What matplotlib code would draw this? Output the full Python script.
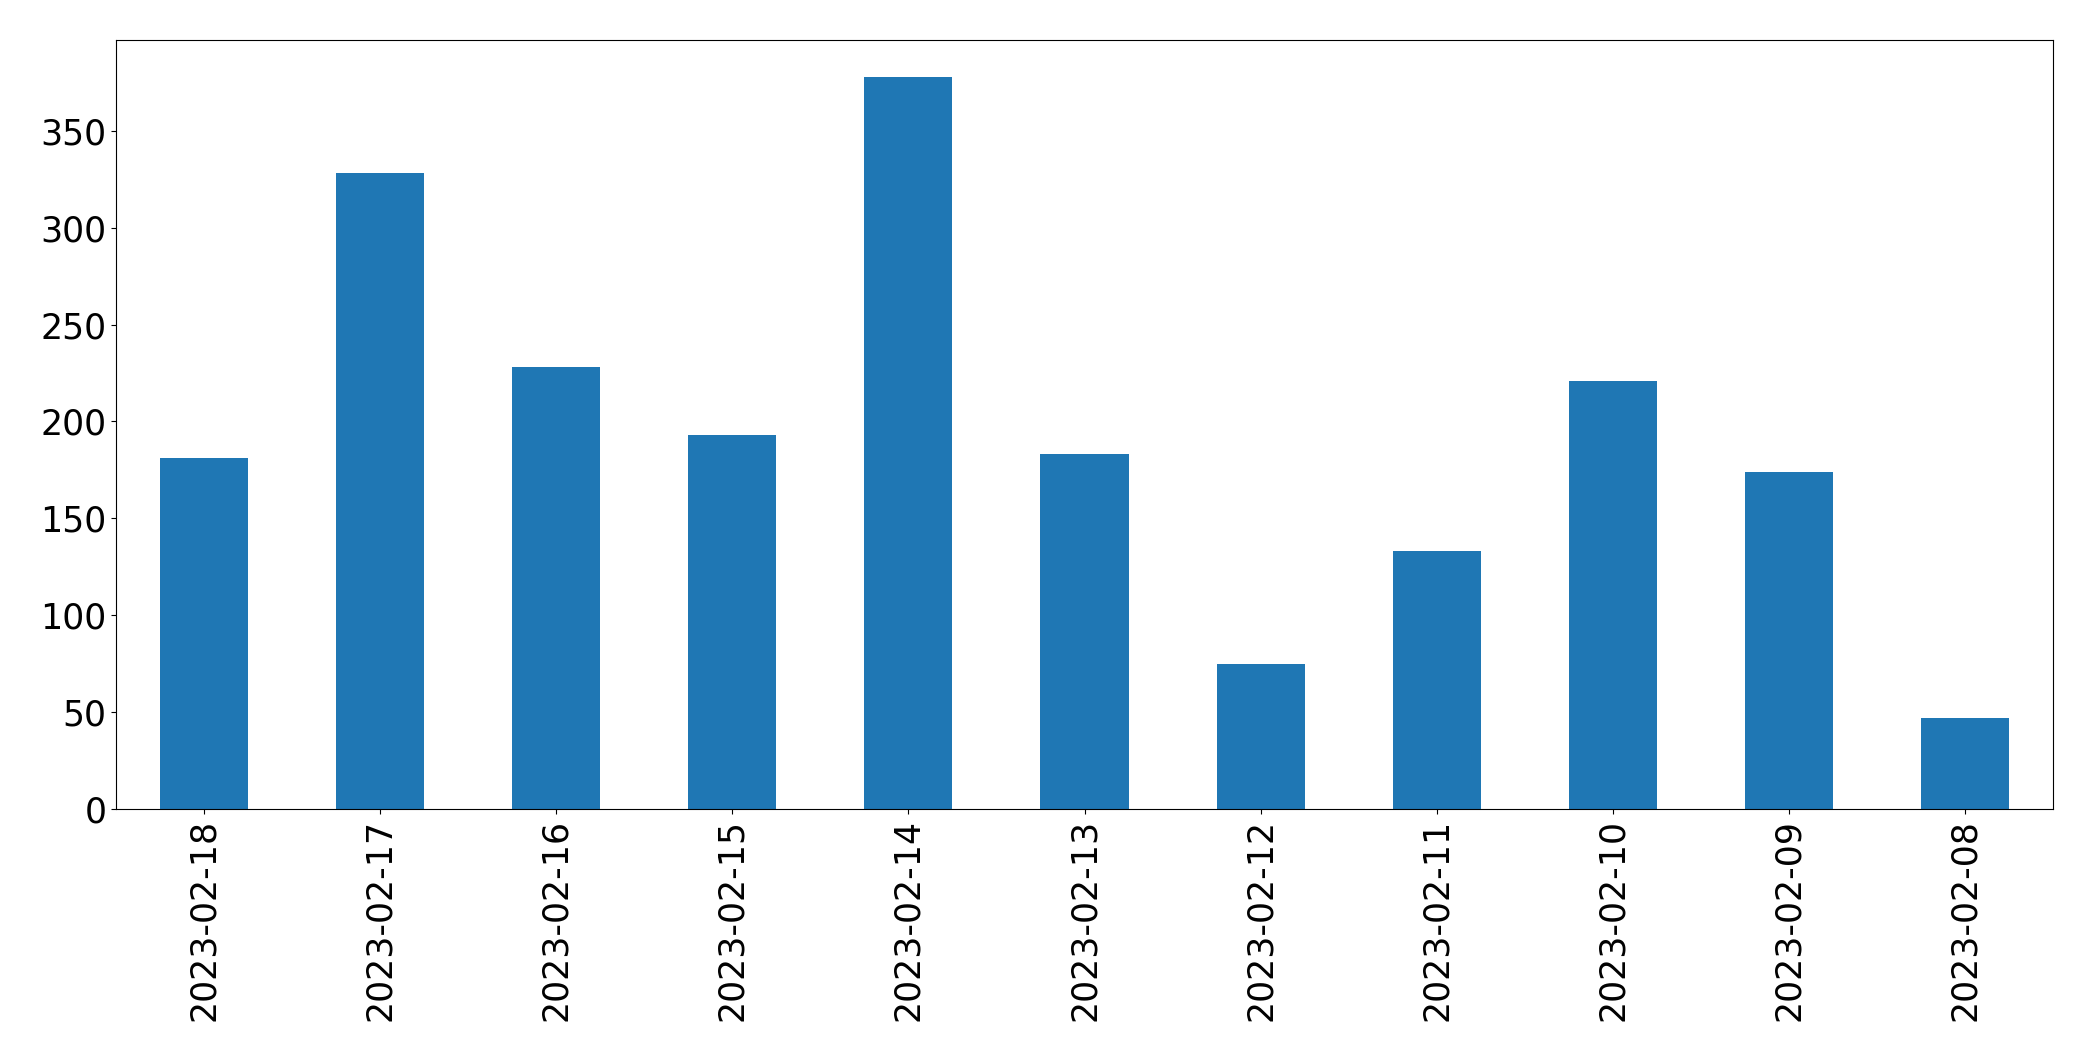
import matplotlib
matplotlib.use('Agg')
import matplotlib.pyplot as plt
import numpy as np

# Datos
dates = ['2023-02-18', '2023-02-17', '2023-02-16', '2023-02-15', '2023-02-14',
         '2023-02-13', '2023-02-12', '2023-02-11', '2023-02-10', '2023-02-09',
         '2023-02-08']
counts = [181, 328, 228, 193, 378, 183, 75, 133, 221, 174, 47]

FONT_SIZE = 25

fig = plt.figure(figsize=(20.93, 10.61), dpi=100)
ax = fig.add_axes([116 / 2093, 1 - 809 / 1061, (2053 - 116) / 2093, (809 - 40) / 1061])

x = np.arange(len(dates))
ax.bar(x, counts, width=0.5, color='#1f77b4')
ax.set_xlim(-0.5, len(dates) - 0.5)
ax.set_xticks(x)
ax.set_xticklabels(dates, rotation=90)
ax.tick_params(axis='both', labelsize=FONT_SIZE)

fig.savefig('out.png', dpi=100)
